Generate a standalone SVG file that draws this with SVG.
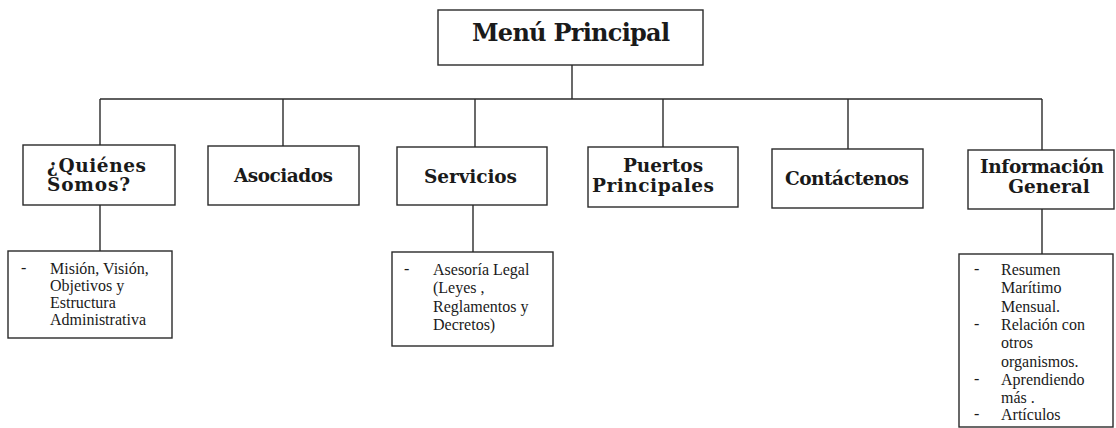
<svg xmlns="http://www.w3.org/2000/svg" width="1116" height="428" viewBox="0 0 1116 428">
<style>
.box{fill:#fff;stroke:#2a2a2a;stroke-width:1.4}
.ln{stroke:#2a2a2a;stroke-width:1.4;fill:none}
.h{font-weight:bold;font-size:18.5px;fill:#1a1a1a}
.big{font-size:24px}
.t{font-size:16px;fill:#1a1a1a}
</style>
<rect width="1116" height="428" fill="#fff"/>
<g id="connectors">
<line class="ln" x1="572" y1="65" x2="572" y2="99"/>
<line class="ln" x1="100" y1="99" x2="1042" y2="99"/>
<line class="ln" x1="100" y1="99" x2="100" y2="145"/>
<line class="ln" x1="283" y1="99" x2="283" y2="146"/>
<line class="ln" x1="475" y1="99" x2="475" y2="147"/>
<line class="ln" x1="663" y1="99" x2="663" y2="147"/>
<line class="ln" x1="848" y1="99" x2="848" y2="149"/>
<line class="ln" x1="1042" y1="99" x2="1042" y2="150"/>
<line class="ln" x1="100" y1="205" x2="100" y2="251"/>
<line class="ln" x1="473" y1="205" x2="473" y2="252"/>
<line class="ln" x1="1042" y1="209" x2="1042" y2="254"/>
</g>
<g font-family="DejaVu Serif, Liberation Serif, serif">
<g id="menu-principal">
<rect class="box" x="438" y="10" width="265" height="55"/>
<text class="h big" x="472" y="41" textLength="198" lengthAdjust="spacing">Menú Principal</text>
</g>
<g id="quienes-somos">
<rect class="box" x="23" y="145" width="152" height="60"/>
<text class="h" x="47" y="172" textLength="99" lengthAdjust="spacing">¿Quiénes</text>
<text class="h" x="47" y="191" textLength="83" lengthAdjust="spacing">Somos?</text>
</g>
<g id="asociados">
<rect class="box" x="208" y="146" width="151" height="59"/>
<text class="h" x="234" y="182" textLength="99" lengthAdjust="spacing">Asociados</text>
</g>
<g id="servicios">
<rect class="box" x="397" y="147" width="150" height="58"/>
<text class="h" x="424" y="183" textLength="93" lengthAdjust="spacing">Servicios</text>
</g>
<g id="puertos-principales">
<rect class="box" x="588" y="147" width="150" height="60"/>
<text class="h" x="663" y="172" text-anchor="middle">Puertos</text>
<text class="h" x="592" y="192" textLength="122" lengthAdjust="spacing">Principales</text>
</g>
<g id="contactenos">
<rect class="box" x="772" y="149" width="151" height="59"/>
<text class="h" x="785" y="185" textLength="124" lengthAdjust="spacing">Contáctenos</text>
</g>
<g id="informacion-general">
<rect class="box" x="968" y="150" width="146" height="59"/>
<text class="h" x="980" y="173" textLength="124" lengthAdjust="spacing">Información</text>
<text class="h" x="1049" y="193" text-anchor="middle">General</text>
</g>
</g>
<g font-family="Liberation Serif, Times New Roman, serif">
<g id="mision">
<rect class="box" x="8" y="251" width="164" height="87"/>
<text class="t" x="21" y="273">-</text>
<text class="t" x="50" y="274">Misión, Visión,</text>
<text class="t" x="50" y="291">Objetivos y</text>
<text class="t" x="50" y="308">Estructura</text>
<text class="t" x="50" y="325">Administrativa</text>
</g>
<g id="asesoria">
<rect class="box" x="392" y="252" width="161" height="94"/>
<text class="t" x="404" y="274">-</text>
<text class="t" x="433" y="275">Asesoría Legal</text>
<text class="t" x="433" y="293">(Leyes ,</text>
<text class="t" x="433" y="312">Reglamentos y</text>
<text class="t" x="433" y="330">Decretos)</text>
</g>
<g id="info-items">
<rect class="box" x="959" y="254" width="154" height="173"/>
<text class="t" x="974" y="274">-</text>
<text class="t" x="974" y="329">-</text>
<text class="t" x="974" y="384">-</text>
<text class="t" x="974" y="419">-</text>
<text class="t" x="1001" y="275">Resumen</text>
<text class="t" x="1001" y="293">Marítimo</text>
<text class="t" x="1001" y="312">Mensual.</text>
<text class="t" x="1001" y="330">Relación con</text>
<text class="t" x="1001" y="348">otros</text>
<text class="t" x="1001" y="367">organismos.</text>
<text class="t" x="1001" y="385">Aprendiendo</text>
<text class="t" x="1001" y="403">más .</text>
<text class="t" x="1001" y="420">Artículos</text>
</g>
</g>
</svg>
